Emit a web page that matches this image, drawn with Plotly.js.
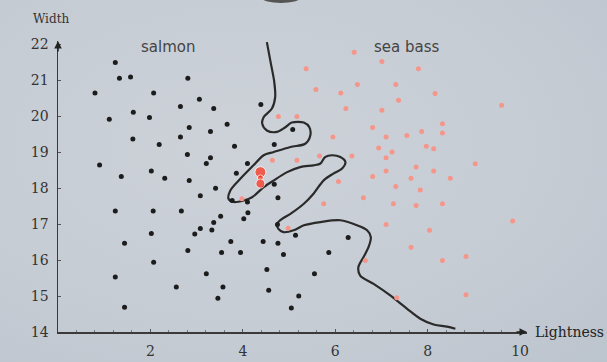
<!DOCTYPE html>
<html><head><meta charset="utf-8">
<script src="https://cdn.plot.ly/plotly-3.0.1.min.js"></script>
<style>
html,body{margin:0;padding:0;}
#wrap{position:relative;width:607px;height:362px;overflow:hidden;
background:radial-gradient(ellipse at 40% 40%, #cdd2d9 0%, #c6ccd4 60%, #bcc4cd 100%);}
#blob{position:absolute;left:262px;top:-7px;width:38px;height:10px;border-radius:50%;background:#555;}
#chart{position:absolute;left:0;top:0;width:607px;height:362px;}
</style></head>
<body><div id="wrap"><div id="blob"></div><div id="chart"></div></div>
<script>
// salmon (black) points
const salmonX = [1.24,1.33,1.57,2.81,0.80,2.07,3.06,2.65,1.63,1.11,1.98,2.84,1.62,2.65,2.19,2.80,0.90,1.37,2.02,2.31,2.84,3.37,4.39,3.66,3.30,5.08,3.82,4.68,3.30,3.21,4.10,3.86,3.41,4.68,4.76,3.08,3.77,4.10,4.11,4.02,3.52,3.37,3.33,3.08,4.75,5.14,3.74,4.44,4.76,3.54,3.95,4.88,5.86,6.28,3.21,4.52,5.55,3.57,4.56,3.46,5.21,5.05,1.24,2.06,2.67,2.02,2.96,1.44,2.81,2.07,1.24,2.56,1.44];
const salmonY = [21.50,21.06,21.10,21.06,20.65,20.65,20.48,20.28,20.12,19.92,19.97,19.69,19.37,19.43,19.22,18.94,18.65,18.33,18.48,18.28,18.22,20.22,20.33,19.78,19.58,19.64,19.17,19.22,18.85,18.69,18.69,18.42,18.00,18.11,17.74,17.79,17.66,17.62,17.32,17.15,17.22,17.05,16.84,16.88,16.99,16.69,16.52,16.52,16.47,16.21,16.21,16.16,16.21,16.63,15.62,15.74,15.62,15.25,15.16,14.94,15.00,14.67,17.37,17.37,17.37,16.74,16.73,16.47,16.27,15.94,15.53,15.25,14.69];
// sea bass (red) points
const bassX = [6.41,7.01,5.37,6.48,7.31,5.58,6.12,7.37,6.23,7.01,4.77,5.17,6.81,5.95,7.10,6.94,7.23,5.66,6.36,7.10,4.64,5.17,6.81,7.10,7.80,8.16,9.60,8.32,7.55,7.87,8.32,7.97,8.13,9.03,7.75,8.13,7.64,8.49,7.84,7.75,8.32,9.84,8.04,7.64,8.32,8.83,8.83,6.07,7.31,6.61,5.75,7.26,7.10,4.98,3.98,6.65,7.33];
const bassY = [21.79,21.53,21.33,20.89,20.89,20.75,20.65,20.45,20.22,20.17,20.00,20.00,19.69,19.43,19.43,19.12,19.01,18.90,18.90,18.85,18.78,18.78,18.33,18.48,21.33,20.64,20.31,19.80,19.47,19.58,19.54,19.17,19.10,18.68,18.59,18.48,18.28,18.28,17.95,17.52,17.57,17.09,16.83,16.36,15.99,16.10,15.04,18.19,18.05,17.74,17.57,17.57,16.99,16.89,17.71,15.99,14.95];
// highlighted (misclassified) sample
const hiX = [4.38,4.38,4.38];
const hiY = [18.45,18.29,18.13];
// decision boundary
const boundX = [4.52,4.60,4.68,4.70,4.63,4.45,4.42,4.52,4.74,4.92,5.06,5.32,5.44,5.46,5.35,5.03,4.67,4.45,4.23,3.95,3.73,3.69,3.80,4.02,4.20,4.45,4.67,4.96,5.24,5.53,5.68,5.78,5.93,6.11,6.22,6.15,5.96,5.75,5.53,5.32,5.03,4.85,4.74,4.77,4.88,5.10,5.32,5.68,6.11,6.47,6.69,6.77,6.72,6.61,6.50,6.54,6.83,7.19,7.55,7.84,8.13,8.42,8.60];
const boundY = [22.07,21.52,20.96,20.54,20.22,19.98,19.80,19.61,19.57,19.70,19.83,19.83,19.70,19.47,19.24,19.15,19.01,18.92,18.64,18.27,17.94,17.71,17.62,17.66,17.75,18.03,18.22,18.45,18.59,18.64,18.69,18.87,18.92,18.87,18.73,18.55,18.41,18.22,17.85,17.57,17.29,17.15,17.01,16.87,16.78,16.83,16.97,17.06,17.11,16.97,16.83,16.64,16.36,16.08,15.80,15.57,15.34,15.02,14.65,14.37,14.21,14.15,14.09];
const xTicks = [2,4,6,8,10];
const yTicks = [14,15,16,17,18,19,20,21,22];

const serif = 'DejaVu Serif, Liberation Serif, serif';
const sans = 'DejaVu Sans, Liberation Sans, sans-serif';
const traces = [
  {x: boundX, y: boundY, mode:'lines', line:{color:'#2a2a2a', width:2.2, shape:'spline', smoothing:0.9}, hoverinfo:'skip'},
  {x: salmonX, y: salmonY, mode:'markers', marker:{color:'#1c1c1c', size:5}},
  {x: bassX, y: bassY, mode:'markers', marker:{color:'#f5968b', size:5}},
  {x: hiX, y: hiY, mode:'markers', marker:{color:'#ff2a12', size:[11,6,9]}}
];
const layout = {
  width:607, height:362,
  margin:{l:58, r:80, t:41, b:30},
  paper_bgcolor:'rgba(0,0,0,0)', plot_bgcolor:'rgba(0,0,0,0)',
  showlegend:false,
  font:{family:serif, size:14, color:'#333'},
  xaxis:{range:[0,10.15], tickvals:xTicks, ticks:'inside', ticklen:3, tickcolor:'#555',
    showgrid:false, zeroline:false, showline:true, linecolor:'#3a3a3a', linewidth:1.5,
    ticklabelstandoff:6, tickfont:{family:serif, size:14, color:'#333'},
    minor:{dtick:0.4, tick0:0, ticks:'inside', ticklen:2, tickcolor:'#777'}},
  yaxis:{range:[14,22.1], tickvals:yTicks, ticks:'inside', ticklen:3, tickcolor:'#555',
    showgrid:false, zeroline:false, showline:true, linecolor:'#3a3a3a', linewidth:1.5,
    ticklabelstandoff:5, tickfont:{family:serif, size:14, color:'#333'}},
  annotations:[
    {xref:'paper', yref:'y', x:1.0, y:14, ax:-12, ay:0, text:'', showarrow:true, arrowhead:2, arrowsize:1, arrowwidth:1.5, arrowcolor:'#222'},
    {xref:'x', yref:'paper', x:0, y:1.0, ax:0, ay:12, text:'', showarrow:true, arrowhead:2, arrowsize:1, arrowwidth:1.5, arrowcolor:'#222'},
    {xref:'paper', yref:'y', x:1.012, y:14, xanchor:'left', yanchor:'middle', text:'Lightness', showarrow:false, font:{family:serif, size:14, color:'#222'}},
    {xref:'paper', yref:'paper', x:-0.015, y:1.075, xanchor:'center', yanchor:'middle', text:'Width', showarrow:false, font:{family:serif, size:12, color:'#333'}},
    {xref:'x', yref:'y', x:2.37, y:21.92, text:'salmon', showarrow:false, font:{family:sans, size:15, color:'#444'}},
    {xref:'x', yref:'y', x:7.56, y:21.92, text:'sea bass', showarrow:false, font:{family:sans, size:15, color:'#444'}}
  ]
};
Plotly.newPlot('chart', traces, layout, {displayModeBar:false, staticPlot:true});
</script></body></html>
